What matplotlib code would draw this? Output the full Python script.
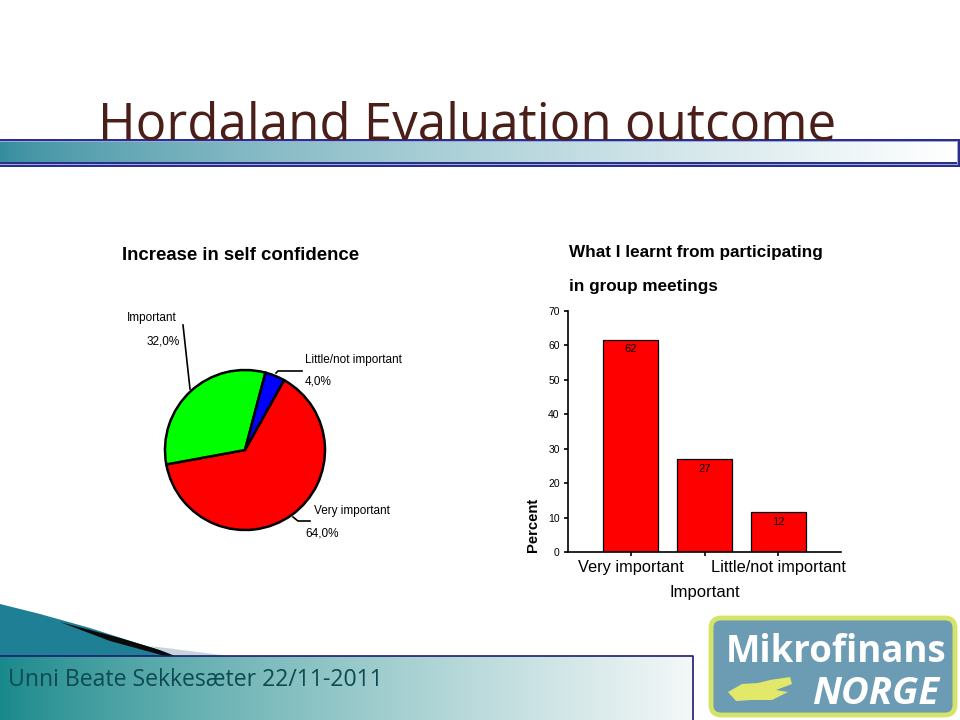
import numpy as np
import matplotlib
matplotlib.use("Agg")
import matplotlib.pyplot as plt
from matplotlib.patches import Polygon, FancyBboxPatch, Rectangle

# ---------------- data ----------------
pie_labels = ["Very important", "Important", "Little/not important"]
pie_values = [64.0, 32.0, 4.0]
pie_colors = ["#ff0000", "#00ff00", "#0000ff"]

bar_categories = ["Very important", "Important", "Little/not important"]
bar_values = [61.6, 26.9, 11.5]
bar_value_labels = ["62", "27", "12"]
bar_tick_labels = ["Very important", "", "Little/not important"]
y_ticks = [0, 10, 20, 30, 40, 50, 60, 70]

title_text = "Hordaland Evaluation outcome"
footer_text = "Unni Beate Sekkes\u00e6ter 22/11-2011"
pie_title = "Increase in self confidence"
bar_title_lines = ["What I learnt from participating", "in group meetings"]

W, H = 960, 720
fig = plt.figure(figsize=(9.6, 7.2), dpi=100)
fig.patch.set_facecolor("white")

# background axes in pixel coordinates
bg = fig.add_axes([0, 0, 1, 1])
bg.set_xlim(0, W)
bg.set_ylim(H, 0)
bg.axis("off")

def hgrad(ax, x0, x1, y0, y1, c0, c1, z=1, power=1.0):
    n = 256
    t = np.linspace(0, 1, n) ** power
    c0 = np.array(matplotlib.colors.to_rgb(c0))
    c1 = np.array(matplotlib.colors.to_rgb(c1))
    img = (c0[None, :] * (1 - t[:, None]) + c1[None, :] * t[:, None])[None, :, :]
    ax.imshow(img, extent=(x0, x1, y1, y0), aspect="auto", zorder=z, interpolation="bilinear")

# title
bg.text(467, 139, title_text, fontsize=36.7, color="#4a1e19", family="Open Sans",
        ha="center", va="baseline", zorder=3)

# top gradient bar with double border
bg.add_patch(Rectangle((-2, 138.5), W + 1.5, 28, facecolor="#2b2f86", edgecolor="none", zorder=1))
bg.add_patch(Rectangle((-2, 140.5), W - 0.5, 24, facecolor="#9aa8e8", edgecolor="none", zorder=1))
bg.add_patch(Rectangle((-2, 141.5), W - 1.5, 22, facecolor="#2b2f86", edgecolor="none", zorder=1))
hgrad(bg, 0, W - 3, 142.5, 162.5, "#348c9e", "#ffffff", z=2, power=0.7)
bg.set_xlim(0, W)
bg.set_ylim(H, 0)

# lower-left swoosh
bg.add_patch(Polygon([(0, 604), (40, 614), (90, 628), (140, 644), (180, 656), (0, 656)],
                     closed=True, facecolor="#1f7f94", edgecolor="none", zorder=2))
bg.add_patch(Polygon([(60, 622), (120, 638), (180, 656), (165, 656), (110, 641)],
                     closed=True, facecolor="#0a0a0a", edgecolor="none", zorder=2))
bg.add_patch(Polygon([(150, 646), (230, 656), (175, 656)],
                     closed=True, facecolor="#c8d4dc", edgecolor="none", zorder=2))

# footer box
hgrad(bg, 0, 693, 656, 720, "#17888a", "#f4f7f8", z=2, power=0.8)
bg.plot([0, 693, 693], [656, 656, 720], color="#1c1c6e", lw=1.2, zorder=3)
bg.text(8, 686, footer_text, fontsize=16.6, color="#0d4a50", family="Open Sans",
        ha="left", va="baseline", zorder=4)

# logo
bg.add_patch(FancyBboxPatch((711, 618), 244, 97, boxstyle="round,pad=0,rounding_size=10",
                            facecolor="#6b9cb4", edgecolor="#d6e36a", lw=3.5, zorder=3))
bg.text(836, 662, "Mikrofinans", fontsize=26.4, color="white", family="Open Sans",
        weight="bold", ha="center", va="baseline", zorder=4)
bg.text(876, 704, "NORGE", fontsize=27.5, color="white", family="Open Sans",
        weight="bold", style="italic", ha="center", va="baseline", zorder=4)
bg.add_patch(Polygon([(728, 692), (742, 684), (758, 683), (770, 680), (790, 677), (792, 684),
                      (776, 690), (788, 692), (772, 700), (752, 700), (736, 701)],
                     closed=True, facecolor="#e2e86a", edgecolor="none", zorder=4))

# ---------------- pie ----------------
cx, cy, R = 245, 450, 80
L = 2.5
size = 2 * L * R
pax = fig.add_axes([(cx - size / 2) / W, (H - cy - size / 2) / H, size / W, size / H])
pax.set_facecolor("none")
pax.pie(pie_values, colors=pie_colors, startangle=60.8, counterclock=False,
        wedgeprops=dict(edgecolor="black", linewidth=1.8), radius=1.0)
pax.set_xlim(-L, L)
pax.set_ylim(-L, L)
pax.set_aspect("equal")
pax.axis("off")

def p2d(x, y):
    return ((x - cx) / R, (cy - y) / R)

lab_font = dict(family="Liberation Sans", fontsize=8.5, color="black")
# Important
pax.plot(*zip(p2d(183, 325), p2d(190, 389)), color="black", lw=1.2)
pax.text(*p2d(127, 318), pie_labels[1], ha="left", va="center", **lab_font)
pax.text(*p2d(147, 341), f"{pie_values[1]:.1f}%".replace(".", ","), ha="left", va="center", **lab_font)
# Little/not important
pax.plot(*zip(p2d(276, 373), p2d(278, 371), p2d(302, 371)), color="black", lw=1.2)
pax.text(*p2d(305, 360), pie_labels[2], ha="left", va="center", **lab_font)
pax.text(*p2d(305, 382), f"{pie_values[2]:.1f}%".replace(".", ","), ha="left", va="center", **lab_font)
# Very important
pax.plot(*zip(p2d(293, 517), p2d(298, 521), p2d(310, 521)), color="black", lw=1.2)
pax.text(*p2d(314, 511), pie_labels[0], ha="left", va="center", **lab_font)
pax.text(*p2d(305, 534), f"{pie_values[0]:.1f}%".replace(".", ","), ha="left", va="center", **lab_font)

bg.text(122, 256, pie_title, fontsize=13.4, weight="bold", family="Liberation Sans",
        ha="left", va="center", zorder=4)

# ---------------- bar ----------------
x0, x1, yt, yb = 568, 841, 311, 552
bax = fig.add_axes([x0 / W, (H - yb) / H, (x1 - x0) / W, (yb - yt) / H])
bax.set_facecolor("none")
pos = np.arange(len(bar_values))
bars = bax.bar(pos, bar_values, width=0.743, color="#ff0000", edgecolor="black", linewidth=0.9)
for p, v, lab in zip(pos, bar_values, bar_value_labels):
    bax.text(p, v - 1.2, lab, ha="center", va="top", fontsize=8, family="Liberation Sans")
bax.set_xlim(-0.845, 2.845)
bax.set_ylim(0, 70)
bax.set_yticks(y_ticks)
bax.set_yticklabels([str(t) for t in y_ticks], fontsize=7.5, family="Liberation Sans")
bax.set_xticks(pos)
bax.set_xticklabels(bar_tick_labels, fontsize=11.8, family="Liberation Sans")
bax.tick_params(axis="both", direction="out", length=3, width=1.2, pad=3)
bax.tick_params(axis="x", pad=3)
for s in ["top", "right"]:
    bax.spines[s].set_visible(False)
for s in ["left", "bottom"]:
    bax.spines[s].set_linewidth(1.2)
bax.set_xlabel("Important", fontsize=12, family="Liberation Sans", labelpad=7)
bax.set_ylabel("Percent", fontsize=10.6, weight="bold", family="Liberation Sans", loc="bottom", labelpad=6)

bg.text(569, 253, bar_title_lines[0], fontsize=12.3, weight="bold", family="Liberation Sans",
        ha="left", va="center", zorder=4)
bg.text(569, 287, bar_title_lines[1], fontsize=12.3, weight="bold", family="Liberation Sans",
        ha="left", va="center", zorder=4)

fig.savefig("out.png", dpi=100)
